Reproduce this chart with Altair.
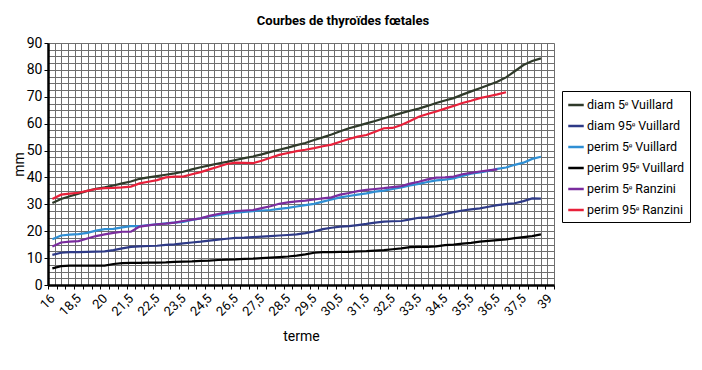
import altair as alt
import pandas as pd

# x categories (58 gestational terms, every third one labelled)
tick_labels = ["16", "18,5", "20", "21,5", "22,5", "23,5", "24,5", "26,5", "27,5", "28,5",
               "29,5", "30,5", "31,5", "32,5", "33,5", "34,5", "35,5", "36,5", "37,5", "39"]
n_categories = 58

series_names = ["diam 5ᵉ Vuillard", "diam 95ᵉ Vuillard", "perim 5ᵉ Vuillard",
                "perim 95ᵉ Vuillard", "perim 5ᵉ Ranzini", "perim 95ᵉ Ranzini"]
series_colors = ["#2f3a2a", "#2e3a87", "#2f8fd4", "#000000", "#7a2c9e", "#e8203a"]

diam5_vuillard = [30.5, 32, 33, 34, 35, 35.8, 36.3, 37, 37.8, 38.5, 39.5, 40, 40.5, 41, 41.5,
                  42.1, 43, 43.8, 44.5, 45.2, 45.8, 46.5, 47.2, 47.8, 48.6, 49.5, 50.3, 51.1,
                  52, 52.8, 53.9, 54.9, 56, 57.2, 58.3, 59.2, 60.1, 61, 62, 63, 63.9, 64.8, 65.6,
                  66.6, 67.7, 68.6, 69.5, 70.8, 72, 73.2, 74.4, 75.6, 77.2, 79.5, 81.8, 83.3,
                  84.3, None]
diam95_vuillard = [11.2, 12, 12.2, 12.2, 12.3, 12.4, 12.5, 13, 13.6, 14.2, 14.4, 14.5, 14.6,
                   14.9, 15.1, 15.5, 15.8, 16.1, 16.5, 16.9, 17.2, 17.5, 17.6, 17.8, 18, 18.2,
                   18.4, 18.6, 18.8, 19.3, 19.9, 20.8, 21.3, 21.7, 21.9, 22.3, 22.7, 23.2, 23.6,
                   23.7, 23.8, 24.4, 25, 25.2, 25.6, 26.4, 27.1, 27.7, 28.1, 28.5, 29.1, 29.7,
                   30.1, 30.4, 31.2, 32.2, 32.1, None]
perim5_vuillard = [17, 18.4, 18.7, 18.9, 19.4, 20.2, 20.8, 20.9, 21.4, 21.9, 21.9, 22.3, 22.6,
                   22.9, 23.2, 23.5, 24.2, 24.8, 25.5, 26, 26.5, 26.9, 27.2, 27.5, 27.7, 27.9,
                   28.3, 28.7, 29.2, 29.7, 30.2, 31, 31.8, 32.6, 33.1, 33.6, 34.1, 34.7, 35.1,
                   35.7, 36.3, 37, 37.6, 38.3, 38.9, 39.2, 39.6, 40.6, 41.4, 41.9, 42.4, 43.2,
                   43.7, 44.7, 45.5, 46.9, 47.7, None]
perim95_vuillard = [6.2, 7, 7.2, 7.2, 7.2, 7.2, 7.2, 7.8, 8.1, 8.2, 8.2, 8.3, 8.3, 8.4, 8.6,
                    8.7, 8.8, 9, 9.1, 9.3, 9.4, 9.5, 9.7, 9.8, 10, 10.2, 10.4, 10.6, 10.9, 11.4,
                    12, 12.2, 12.2, 12.3, 12.3, 12.5, 12.6, 12.8, 13, 13.3, 13.6, 14.1, 14.2,
                    14.2, 14.4, 14.8, 15, 15.4, 15.7, 16.1, 16.4, 16.7, 17, 17.4, 17.8, 18.2,
                    18.8, None]
perim5_ranzini = [14.3, 15.8, 16.1, 16.3, 17.3, 18.2, 18.8, 19.4, 19.8, 19.8, 21.7, 22.2, 22.6,
                  22.8, 23.2, 23.8, 24.3, 24.8, 25.7, 26.4, 27, 27.5, 27.7, 27.9, 28.6, 29.3,
                  30.2, 30.7, 31.1, 31.4, 31.8, 32.2, 32.6, 33.6, 34.2, 34.9, 35.4, 35.7, 36,
                  36.4, 36.8, 37.7, 38.4, 39.3, 39.9, 40, 40.3, 41.2, 41.7, 42.2, 42.6, 43,
                  None, None, None, None, None, None]
perim95_ranzini = [32, 33.6, 34, 34.3, 35, 35.7, 36, 36.1, 36.3, 36.6, 37.8, 38.4, 39, 40, 40.3,
                   40.3, 41.2, 42, 43, 44, 45, 45.5, 45.4, 45.3, 46.2, 47.3, 48.4, 49.1, 49.8,
                   50.3, 50.9, 51.6, 52.2, 53.3, 54.3, 55.2, 55.8, 57, 58.3, 58.4, 59.5, 61,
                   62.6, 63.6, 64.5, 65.6, 66.6, 67.7, 68.5, 69.5, 70.2, 70.9, 71.7,
                   None, None, None, None, None]

all_series = [diam5_vuillard, diam95_vuillard, perim5_vuillard,
              perim95_vuillard, perim5_ranzini, perim95_ranzini]

rows = []
for name, vals in zip(series_names, all_series):
    for i, v in enumerate(vals):
        if v is not None:
            rows.append({"idx": i, "value": v, "serie": name})
df = pd.DataFrame(rows)

FONT = "Roboto"
GRID = "#6e6e6e"

labels_js = "[" + ",".join("'" + t + "'" for t in tick_labels) + "]"
label_expr = ("(datum.value + 0.5) % 3 === 0 && datum.value < 57 ? "
              + labels_js + "[(datum.value + 0.5) / 3] : ''")

# background square grid (graph paper)
grid = alt.Chart(pd.DataFrame({"gx": [0], "gy": [0]})).mark_point(opacity=0).encode(
    x=alt.X("gx:Q", scale=alt.Scale(domain=[0, 76], nice=False, zero=False),
            axis=alt.Axis(orient="top", values=list(range(77)), grid=True, gridColor=GRID,
                          gridWidth=1, gridOpacity=1, labels=False, ticks=False,
                          domain=False, title=None)),
    y=alt.Y("gy:Q", scale=alt.Scale(domain=[0, 90], nice=False, zero=False),
            axis=alt.Axis(orient="right", values=[k * 2.5 for k in range(37)], grid=True,
                          gridColor=GRID, gridWidth=1, gridOpacity=1, labels=False,
                          ticks=False, domain=False, title=None)),
)

lines = alt.Chart(df).mark_line(strokeWidth=2.2).encode(
    x=alt.X("idx:Q", scale=alt.Scale(domain=[-0.5, n_categories - 0.5], nice=False, zero=False),
            axis=alt.Axis(values=[k - 0.5 for k in range(n_categories + 1)], labelExpr=label_expr,
                          labelOverlap=False, labelAngle=-45, labelAlign="right",
                          labelBaseline="middle", labelOffset=4.4, labelPadding=7,
                          labelFont=FONT, labelFontSize=13, labelColor="black",
                          grid=False, ticks=True, tickSize=4, tickColor="black",
                          domainColor="black", domainWidth=2.5, zindex=1,
                          title="terme", titleFont=FONT, titleFontSize=14,
                          titleFontWeight="normal", titleColor="black", titlePadding=11)),
    y=alt.Y("value:Q", scale=alt.Scale(domain=[0, 90], nice=False, zero=False),
            axis=alt.Axis(values=list(range(0, 91, 10)), grid=False, tickSize=4,
                          tickColor="black", domainColor="black", domainWidth=2.5,
                          labelFont=FONT, labelFontSize=14, labelColor="black",
                          labelPadding=2, zindex=1,
                          title="mm", titleFont=FONT, titleFontSize=14,
                          titleFontWeight="normal", titleColor="black", titlePadding=0)),
    color=alt.Color("serie:N",
                    scale=alt.Scale(domain=series_names, range=series_colors),
                    legend=alt.Legend(orient="none", legendX=514, legendY=48, title=None,
                                      strokeColor="black", fillColor="white", padding=5,
                                      rowPadding=5, symbolType="stroke", symbolSize=240,
                                      symbolStrokeWidth=2.5, labelFont=FONT,
                                      labelFontSize=12.5, labelColor="black",
                                      labelOffset=2)),
)

chart = alt.layer(grid, lines).resolve_scale(x="independent", y="independent").properties(
    width=506,
    height=242,
    title=alt.TitleParams("Courbes de thyroïdes fœtales", font=FONT, fontSize=13,
                          fontWeight="bold", color="black", anchor="middle", dx=42,
                          offset=8),
    autosize=alt.AutoSizeParams(type="none"),
    padding={"left": 40, "top": 35, "right": 140, "bottom": 70},
).configure_view(stroke=None).configure(background="white")

chart.save("out.html", embed_options={"renderer": "svg", "actions": False})
